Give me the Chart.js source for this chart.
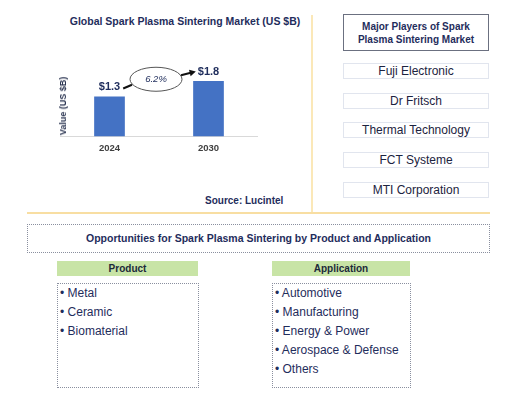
<!DOCTYPE html>
<html>
<head>
<meta charset="utf-8">
<script src="https://cdn.jsdelivr.net/npm/chart.js@4.4.0/dist/chart.umd.min.js"></script>
<style>
  body { margin: 0; background: #fff; font-family: "Liberation Sans", Arial, sans-serif; }
  #page { position: relative; width: 519px; height: 404px; overflow: hidden; }
  .abs { position: absolute; }
  .navy { color: #1f2d5c; }
  #title { left: 0; top: 15px; width: 370px; text-align: center; font-weight: bold; font-size: 10.5px; }
  #ytitle { left: 63px; top: 106px; transform: translate(-50%, -50%) rotate(-90deg); white-space: nowrap;
            font-weight: bold; font-size: 9px; color: #2b3552; }
  #source { left: 205px; top: 195px; font-weight: bold; font-size: 10px; }
  #chartBox { left: 60px; top: 44px; width: 198px; height: 116px; }
  #vline { left: 311px; top: 15px; height: 197px; border-left: 2px solid #fbe8b8; }
  #hline { left: 27px; top: 212px; width: 463px; border-top: 2px solid #f8dea2; }
  #players { left: 343px; top: 14px; width: 144px; height: 35px; border: 1px solid #6b7080;
             text-align: center; font-weight: bold; font-size: 10px; line-height: 13px;
             display: flex; align-items: center; justify-content: center; }
  .company { left: 343px; width: 144px; height: 14px; border: 1px solid #e1e5ee;
             text-align: center; font-size: 12px; line-height: 14px; color: #1c2340; }
  #opp { left: 27px; top: 224px; width: 461px; height: 27px; border: 1px dotted #8a8f9f;
         text-align: center; font-weight: bold; font-size: 10.5px; line-height: 27px; }
  .head { top: 261px; height: 15px; background: #c8e4a6; text-align: center;
          font-weight: bold; font-size: 10px; line-height: 15px; color: #1c2a3a; }
  .list { top: 283px; height: 103px; border: 1px dotted #8a8f9f; }
  .list div { font-size: 12px; height: 19px; line-height: 19px; padding-left: 2px; }
</style>
</head>
<body>
<div id="page">
  <div id="title" class="abs navy">Global Spark Plasma Sintering Market (US $B)</div>
  <div id="chartBox" class="abs"><canvas id="spsChart"></canvas></div>
  <div id="ytitle" class="abs">Value (US $B)</div>
  <div id="source" class="abs navy">Source: Lucintel</div>
  <div id="vline" class="abs"></div>
  <div id="hline" class="abs"></div>

  <div id="players" class="abs navy">Major Players of Spark<br>Plasma Sintering Market</div>
  <div id="companies"></div>

  <div id="opp" class="abs navy">Opportunities for Spark Plasma Sintering by Product and Application</div>
  <div class="abs head" style="left:57px;width:141px;">Product</div>
  <div class="abs head" style="left:272px;width:138px;">Application</div>
  <div id="productList" class="abs list navy" style="left:57px;width:140px;"></div>
  <div id="appList" class="abs list navy" style="left:272px;width:137px;"></div>
</div>

<script>
/* =========================
   DATA
========================= */
const years = ["2024", "2030"];
const marketValues = [1.3, 1.8];
const valueLabels = ["$1.3", "$1.8"];
const cagrLabel = "6.2%";

const companies = ["Fuji Electronic", "Dr Fritsch", "Thermal Technology", "FCT Systeme", "MTI Corporation"];
const products = ["Metal", "Ceramic", "Biomaterial"];
const applications = ["Automotive", "Manufacturing", "Energy & Power", "Aerospace & Defense", "Others"];

/* =========================
   SIDE PANELS
========================= */
const compWrap = document.getElementById("companies");
companies.forEach((name, i) => {
  const d = document.createElement("div");
  d.className = "abs company";
  d.style.top = (63 + i * 29.7) + "px";
  d.textContent = name;
  compWrap.appendChild(d);
});

function fillList(id, items) {
  const box = document.getElementById(id);
  items.forEach(t => {
    const d = document.createElement("div");
    d.textContent = "\u2022 " + t;
    box.appendChild(d);
  });
}
fillList("productList", products);
fillList("appList", applications);

/* =========================
   BAR CHART + CAGR BUBBLE
========================= */
const cagrPlugin = {
  id: "cagr",
  afterDatasetsDraw(chart) {
    const ctx = chart.ctx;
    const bars = chart.getDatasetMeta(0).data;
    ctx.save();
    ctx.font = "bold 11px 'Liberation Sans', Arial";
    ctx.fillStyle = "#1f2d5c";
    ctx.textAlign = "center";
    ctx.textBaseline = "middle";
    const pts = bars.map((b, i) => ({ x: b.x, y: b.y - 9.5, w: ctx.measureText(valueLabels[i]).width }));
    pts.forEach((p, i) => ctx.fillText(valueLabels[i], p.x, p.y));

    // ellipse between the two labels
    const ex = (pts[0].x + pts[1].x) / 2 - 3;
    const ey = (pts[0].y + pts[1].y) / 2;
    const rx = 26, ry = 12;
    ctx.beginPath();
    ctx.ellipse(ex, ey, rx, ry, 0, 0, Math.PI * 2);
    ctx.fillStyle = "#fff";
    ctx.fill();
    ctx.strokeStyle = "#555";
    ctx.lineWidth = 1;
    ctx.stroke();
    ctx.fillStyle = "#1f2d5c";
    ctx.font = "italic 9.5px 'Liberation Sans', Arial";
    ctx.fillText(cagrLabel, ex, ey);

    // arrows
    ctx.strokeStyle = "#111";
    ctx.lineWidth = 2;
    const a0 = { x: pts[0].x + pts[0].w / 2 + 3, y: pts[0].y + 1.5 };
    const a1 = { x: ex - rx + 2, y: ey + 5.5 };
    ctx.beginPath(); ctx.moveTo(a0.x, a0.y); ctx.lineTo(a1.x, a1.y); ctx.stroke();
    const b0 = { x: ex + rx - 1, y: ey - 4 };
    const b1 = { x: pts[1].x - pts[1].w / 2 - 2, y: pts[1].y };
    ctx.beginPath(); ctx.moveTo(b0.x, b0.y); ctx.lineTo(b1.x - 4, b1.y + 1); ctx.stroke();
    const ang = Math.atan2(b1.y - b0.y, b1.x - b0.x);
    ctx.fillStyle = "#111";
    ctx.beginPath();
    ctx.moveTo(b1.x, b1.y);
    ctx.lineTo(b1.x - 7 * Math.cos(ang - 0.5), b1.y - 7 * Math.sin(ang - 0.5));
    ctx.lineTo(b1.x - 7 * Math.cos(ang + 0.5), b1.y - 7 * Math.sin(ang + 0.5));
    ctx.closePath();
    ctx.fill();
    ctx.restore();
  }
};

new Chart(document.getElementById("spsChart"), {
  type: "bar",
  data: {
    labels: years,
    datasets: [{
      data: marketValues,
      backgroundColor: "#4472c4",
      barPercentage: 0.62,
      categoryPercentage: 0.5
    }]
  },
  options: {
    responsive: true,
    maintainAspectRatio: false,
    animation: false,
    layout: { padding: 0 },
    plugins: { legend: { display: false }, tooltip: { enabled: false } },
    scales: {
      x: {
        grid: { display: false, drawTicks: false },
        border: { display: true, color: "#d9d9d9" },
        ticks: { color: "#404040", font: { family: "'Liberation Sans', Arial", size: 9.5, weight: "bold" }, padding: 6 }
      },
      y: {
        display: false,
        min: 0,
        max: 3
      }
    }
  },
  plugins: [cagrPlugin]
});
</script>
</body>
</html>
